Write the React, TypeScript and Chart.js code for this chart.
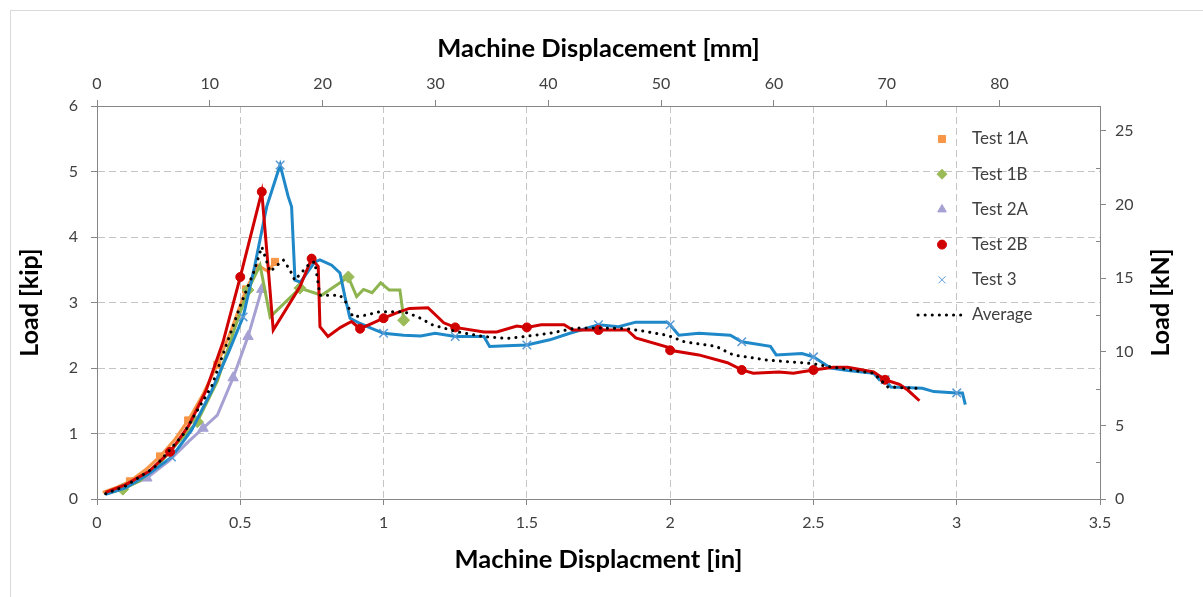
import React, { useEffect, useRef } from "react";
import { Chart, registerables } from "chart.js";
import { drawPoint } from "chart.js/helpers";

Chart.register(...registerables);

// Unit conversions for the secondary axes
const IN_TO_MM = 25.4;
const KIP_TO_KN = 4.44822;

// Axis ticks
const IN_TICKS = [0, 0.5, 1, 1.5, 2, 2.5, 3, 3.5];
const MM_TICKS = [0, 10, 20, 30, 40, 50, 60, 70, 80];
const KIP_TICKS = [0, 1, 2, 3, 4, 5, 6];
const KN_TICKS = [0, 5, 10, 15, 20, 25];

// Test 1A
const test1A_x = [0.02, 0.07, 0.115, 0.17, 0.22, 0.27, 0.318, 0.37, 0.42, 0.47, 0.52, 0.563, 0.597, 0.621];
const test1A_y = [0.1, 0.18, 0.27, 0.45, 0.65, 0.9, 1.2, 1.6, 2.05, 2.6, 3.2, 3.57, 3.47, 3.62];
const test1A_marks = [0.115, 0.22, 0.318, 0.42, 0.52, 0.621];

// Test 1B
const test1B_x = [0.03, 0.09, 0.15, 0.22, 0.28, 0.35, 0.42, 0.48, 0.527, 0.569, 0.604, 0.708, 0.784, 0.877, 0.906, 0.93, 0.96, 0.99, 1.02, 1.057, 1.065, 1.07];
const test1B_y = [0.08, 0.15, 0.28, 0.55, 0.85, 1.18, 1.8, 2.6, 3.19, 3.57, 2.78, 3.22, 3.11, 3.39, 3.09, 3.2, 3.15, 3.3, 3.19, 3.19, 2.93, 2.73];
const test1B_marks = [0.09, 0.35, 0.527, 0.708, 0.877, 1.07];

// Test 2A
const test2A_x = [0.03, 0.1, 0.174, 0.25, 0.32, 0.37, 0.42, 0.475, 0.527, 0.575];
const test2A_y = [0.08, 0.18, 0.32, 0.58, 0.88, 1.08, 1.28, 1.85, 2.48, 3.2];
const test2A_marks = [0.174, 0.37, 0.475, 0.527, 0.575];

// Test 2B
const test2B_x = [0.03, 0.1, 0.18, 0.255, 0.32, 0.38, 0.44, 0.5, 0.575, 0.597, 0.615, 0.708, 0.749, 0.772, 0.778, 0.806, 0.85, 0.888, 0.918, 0.96, 1.0, 1.05, 1.09, 1.155, 1.21, 1.25, 1.35, 1.395, 1.465, 1.5, 1.55, 1.63, 1.66, 1.75, 1.85, 1.88, 1.99, 2.0, 2.1, 2.2, 2.25, 2.29, 2.38, 2.43, 2.5, 2.57, 2.62, 2.71, 2.75, 2.8, 2.83, 2.87];
const test2B_y = [0.1, 0.22, 0.42, 0.72, 1.12, 1.65, 2.4, 3.39, 4.69, 3.55, 2.58, 3.24, 3.67, 3.55, 2.63, 2.48, 2.62, 2.71, 2.6, 2.68, 2.76, 2.85, 2.91, 2.92, 2.69, 2.62, 2.55, 2.55, 2.64, 2.62, 2.66, 2.66, 2.58, 2.58, 2.58, 2.46, 2.32, 2.27, 2.2, 2.08, 1.97, 1.92, 1.94, 1.92, 1.97, 2.01, 2.01, 1.94, 1.82, 1.75, 1.66, 1.5];
const test2B_marks = [0.255, 0.5, 0.575, 0.749, 0.918, 1.0, 1.25, 1.5, 1.75, 2.0, 2.25, 2.5, 2.75];

// Test 3
const test3_x = [0.03, 0.1, 0.18, 0.26, 0.33, 0.4, 0.46, 0.51, 0.55, 0.592, 0.639, 0.667, 0.679, 0.691, 0.71, 0.76, 0.778, 0.819, 0.848, 0.865, 0.883, 0.918, 0.96, 1.0, 1.07, 1.13, 1.18, 1.25, 1.35, 1.37, 1.43, 1.5, 1.58, 1.65, 1.75, 1.82, 1.88, 1.99, 2.0, 2.03, 2.1, 2.21, 2.25, 2.35, 2.37, 2.46, 2.5, 2.56, 2.62, 2.71, 2.73, 2.75, 2.77, 2.84, 2.88, 2.92, 3.0, 3.02, 3.03];
const test3_y = [0.07, 0.17, 0.38, 0.64, 1.05, 1.65, 2.25, 2.78, 3.55, 4.46, 5.1, 4.62, 4.46, 3.34, 3.31, 3.62, 3.65, 3.57, 3.45, 3.09, 2.76, 2.68, 2.6, 2.53, 2.5, 2.49, 2.53, 2.48, 2.48, 2.33, 2.34, 2.35, 2.43, 2.53, 2.66, 2.63, 2.7, 2.7, 2.66, 2.5, 2.53, 2.5, 2.4, 2.33, 2.2, 2.22, 2.17, 2.0, 1.96, 1.92, 1.82, 1.82, 1.71, 1.7, 1.69, 1.64, 1.62, 1.62, 1.44];
const test3_marks = [0.26, 0.51, 0.639, 1.0, 1.25, 1.5, 1.75, 2.0, 2.25, 2.5, 2.75, 3.0];

// Average of all tests
const avg_x = [0.03, 0.1, 0.2, 0.3, 0.4, 0.5, 0.55, 0.575, 0.604, 0.65, 0.673, 0.69, 0.743, 0.76, 0.778, 0.848, 0.871, 0.893, 0.93, 0.987, 1.07, 1.12, 1.17, 1.25, 1.35, 1.43, 1.49, 1.58, 1.67, 1.77, 1.85, 1.91, 1.99, 2.05, 2.16, 2.22, 2.34, 2.49, 2.57, 2.71, 2.76, 2.86, 2.87];
const avg_y = [0.08, 0.2, 0.48, 0.98, 1.72, 2.95, 3.5, 3.85, 3.47, 3.65, 3.5, 3.34, 3.6, 3.62, 3.11, 3.11, 2.99, 2.78, 2.8, 2.86, 2.86, 2.78, 2.66, 2.56, 2.48, 2.45, 2.48, 2.53, 2.61, 2.61, 2.6, 2.56, 2.5, 2.4, 2.33, 2.2, 2.12, 2.07, 2.01, 1.92, 1.71, 1.69, 1.62];

const FONT = "Lato, 'Open Sans', sans-serif";
const TEXT = "#404040";
const AXIS = "#868686";
const GRID = "#c4c4c4";

const ORANGE = "#F79646";
const GREEN = "#8DB44E";
const LAVENDER = "#A6A1D3";
const RED = "#D00000";
const BLUE = "#1E88C8";
const BLUE_MARK = "#5B9BD5";

type Series = {
  label: string;
  xs: number[];
  ys: number[];
  marks: number[];
  color: string;
  markColor: string;
  style: string;
  radius: number;
  order: number;
};

const SERIES: Series[] = [
  { label: "Test 1A", xs: test1A_x, ys: test1A_y, marks: test1A_marks, color: ORANGE, markColor: ORANGE, style: "rect", radius: 5, order: 4 },
  { label: "Test 1B", xs: test1B_x, ys: test1B_y, marks: test1B_marks, color: GREEN, markColor: "#9BBB59", style: "rectRot", radius: 6, order: 3 },
  { label: "Test 2A", xs: test2A_x, ys: test2A_y, marks: test2A_marks, color: LAVENDER, markColor: LAVENDER, style: "triangle", radius: 6, order: 5 },
  { label: "Test 2B", xs: test2B_x, ys: test2B_y, marks: test2B_marks, color: RED, markColor: RED, style: "circle", radius: 4.5, order: 1 },
  { label: "Test 3", xs: test3_x, ys: test3_y, marks: test3_marks, color: BLUE, markColor: BLUE_MARK, style: "crossRot", radius: 6, order: 2 },
];

const toPoints = (xs: number[], ys: number[]) => xs.map((x, i) => ({ x, y: ys[i] }));

// Legend, right-hand title and minor ticks drawn on top of the plot
const overlayPlugin = {
  id: "overlay",
  afterDraw(chart: any) {
    const { ctx, chartArea } = chart;
    const y2 = chart.scales.y2;
    ctx.save();

    // minor ticks on the kN axis
    ctx.strokeStyle = AXIS;
    ctx.lineWidth = 1;
    for (let v = 2.5; v < y2.max; v += 5) {
      const py = Math.round(y2.getPixelForValue(v)) + 0.5;
      ctx.beginPath();
      ctx.moveTo(chartArea.right - 4, py);
      ctx.lineTo(chartArea.right, py);
      ctx.stroke();
    }

    // right axis title, reading bottom to top
    ctx.fillStyle = "#000";
    ctx.font = `bold 25px ${FONT}`;
    ctx.textAlign = "center";
    ctx.textBaseline = "middle";
    ctx.translate(chartArea.right + 61, (chartArea.top + chartArea.bottom) / 2);
    ctx.rotate(-Math.PI / 2);
    ctx.fillText("Load [kN]", 0, 0);
    ctx.restore();

    // legend, placed inside the top-right of the plot
    ctx.save();
    const markX = chartArea.right - 158;
    const textX = chartArea.right - 128;
    const firstRow = chartArea.top + 33;
    const rowStep = 35.2;
    ctx.font = `17px ${FONT}`;
    ctx.textAlign = "left";
    ctx.textBaseline = "middle";
    SERIES.forEach((s, i) => {
      const ry = firstRow + i * rowStep;
      ctx.fillStyle = s.markColor;
      ctx.strokeStyle = s.markColor;
      drawPoint(ctx, { pointStyle: s.style, radius: s.style === "circle" ? 4.5 : 5, rotation: 0, borderWidth: s.style === "crossRot" ? 1.2 : 1 }, markX, ry);
      ctx.fillStyle = TEXT;
      ctx.fillText(s.label, textX, ry);
    });
    const avgRow = firstRow + 5 * rowStep;
    ctx.strokeStyle = "#000";
    ctx.lineWidth = 3;
    ctx.lineCap = "round";
    ctx.setLineDash([0.1, 7]);
    ctx.beginPath();
    ctx.moveTo(markX - 24, avgRow);
    ctx.lineTo(markX + 20, avgRow);
    ctx.stroke();
    ctx.setLineDash([]);
    ctx.fillStyle = TEXT;
    ctx.fillText("Average", textX, avgRow);
    ctx.restore();
  },
};

const edgeGrid = (edges: number[]) => (c: any) =>
  c.tick && edges.includes(c.tick.value) ? "rgba(0,0,0,0)" : GRID;

const plainLabel = (v: any) => String(v);

export default function App() {
  const canvasRef = useRef<HTMLCanvasElement | null>(null);

  useEffect(() => {
    const canvas = canvasRef.current;
    if (!canvas) return;

    const datasets: any[] = SERIES.map((s) => ({
      label: s.label,
      data: toPoints(s.xs, s.ys),
      borderColor: s.color,
      backgroundColor: s.markColor,
      borderWidth: 3,
      tension: 0,
      pointStyle: s.style,
      pointBackgroundColor: s.markColor,
      pointBorderColor: s.markColor,
      pointBorderWidth: s.style === "crossRot" ? 1.5 : 1,
      pointRadius: (c: any) => (c.raw && s.marks.includes(c.raw.x) ? s.radius : 0),
      order: s.order,
      xAxisID: "x",
      yAxisID: "y",
    }));
    datasets.push({
      label: "Average",
      data: toPoints(avg_x, avg_y),
      borderColor: "#000",
      borderWidth: 3,
      borderDash: [0.1, 7],
      borderCapStyle: "round",
      pointRadius: 0,
      tension: 0,
      order: 0,
      xAxisID: "x",
      yAxisID: "y",
    });

    const tickFont = { family: FONT, size: 16 };
    const titleFont = { family: FONT, size: 25.5, weight: "bold" as const };

    const chart = new Chart(canvas, {
      type: "line",
      data: { datasets },
      options: {
        responsive: false,
        animation: false,
        events: [],
        layout: { padding: 0 },
        plugins: { legend: { display: false }, tooltip: { enabled: false } },
        scales: {
          x: {
            type: "linear",
            position: "bottom",
            min: 0,
            max: 3.5,
            afterBuildTicks: (s: any) => {
              s.ticks = IN_TICKS.map((v) => ({ value: v }));
            },
            afterFit: (s: any) => {
              s.height = 98;
            },
            grid: { color: edgeGrid([0, 3.5]), tickColor: AXIS, tickLength: 6, tickBorderDash: [] },
            border: { color: AXIS, dash: [7, 4] },
            ticks: { font: tickFont, color: TEXT, padding: 8, maxRotation: 0, callback: plainLabel },
            title: { display: true, text: "Machine Displacment [in]", font: titleFont, color: "#000", padding: { top: 0, bottom: 22 } },
          },
          x2: {
            type: "linear",
            position: "top",
            min: 0,
            max: 3.5 * IN_TO_MM,
            afterBuildTicks: (s: any) => {
              s.ticks = MM_TICKS.map((v) => ({ value: v }));
            },
            afterFit: (s: any) => {
              s.height = 95;
            },
            grid: { drawOnChartArea: false, tickColor: AXIS, tickLength: 6 },
            border: { color: AXIS },
            ticks: { font: tickFont, color: TEXT, padding: 7, maxRotation: 0, callback: plainLabel },
            title: { display: true, text: "Machine Displacement [mm]", font: titleFont, color: "#000", padding: { top: 22, bottom: 0 } },
          },
          y: {
            type: "linear",
            position: "left",
            min: 0,
            max: 6,
            afterBuildTicks: (s: any) => {
              s.ticks = KIP_TICKS.map((v) => ({ value: v }));
            },
            afterFit: (s: any) => {
              s.width = 86;
            },
            grid: { color: edgeGrid([0, 6]), tickColor: AXIS, tickLength: 6, tickBorderDash: [] },
            border: { color: AXIS, dash: [7, 4] },
            ticks: { font: tickFont, color: TEXT, padding: 13, callback: plainLabel },
            title: { display: true, text: "Load [kip]", font: { family: FONT, size: 25, weight: "bold" }, color: "#000", padding: { top: 4, bottom: 0 } },
          },
          y2: {
            type: "linear",
            position: "right",
            min: 0,
            max: 6 * KIP_TO_KN,
            afterBuildTicks: (s: any) => {
              s.ticks = KN_TICKS.map((v) => ({ value: v }));
            },
            afterFit: (s: any) => {
              s.width = 103;
            },
            grid: { drawOnChartArea: false, tickColor: AXIS, tickLength: 6 },
            border: { color: AXIS },
            ticks: { font: tickFont, color: TEXT, padding: 9, callback: plainLabel },
          },
        },
      },
      plugins: [overlayPlugin],
    } as any);

    return () => chart.destroy();
  }, []);

  return (
    <div
      style={{
        position: "absolute",
        left: 10,
        top: 10,
        width: 1192,
        height: 586,
        borderTop: "1px solid #d9d9d9",
        borderLeft: "1px solid #d9d9d9",
        background: "#fff",
      }}
    >
      <canvas ref={canvasRef} width={1192} height={586} style={{ display: "block" }} />
    </div>
  );
}
